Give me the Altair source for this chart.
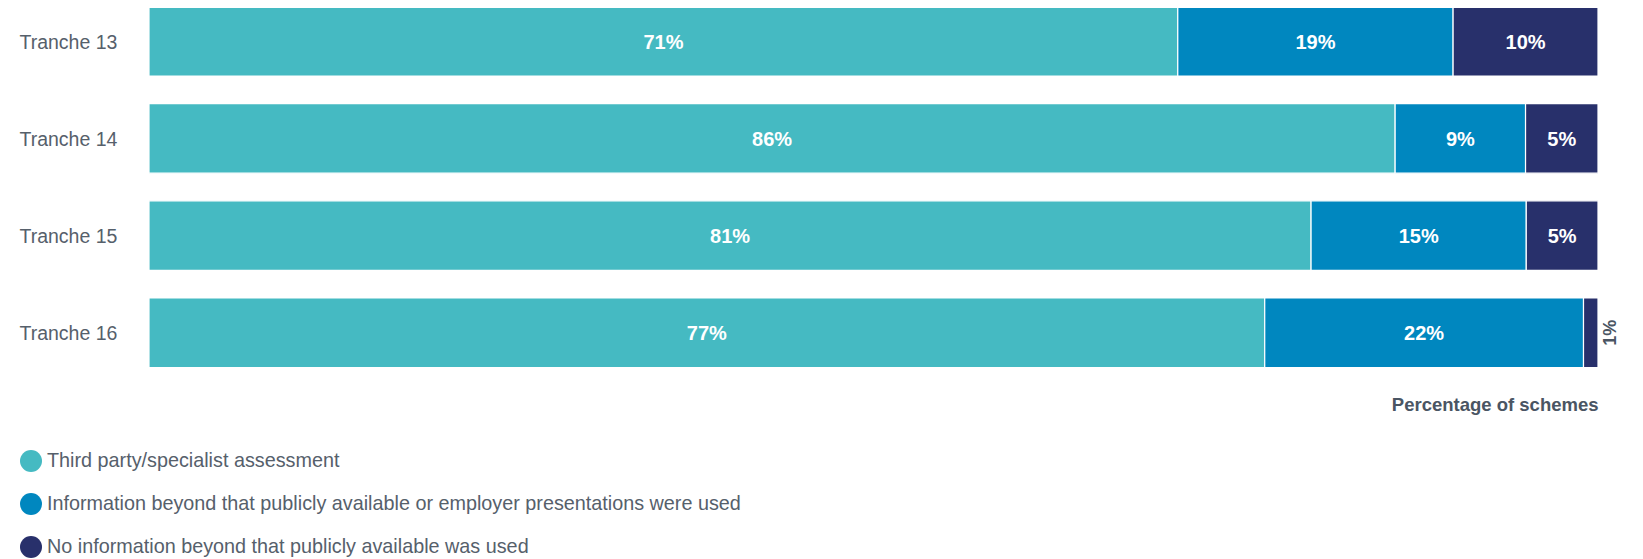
import altair as alt
import pandas as pd

tranches = ["Tranche 13", "Tranche 14", "Tranche 15", "Tranche 16"]
categories = [
    "Third party/specialist assessment",
    "Information beyond that publicly available or employer presentations were used",
    "No information beyond that publicly available was used",
]
third_party = [71, 86, 81, 77]
beyond_public = [19, 9, 15, 22]
no_info = [10, 5, 5, 1]
colors = ["#45BAC2", "#0087BF", "#28306B"]

series = [third_party, beyond_public, no_info]
rows = []
for i, t in enumerate(tranches):
    for j, cat in enumerate(categories):
        v = series[j][i]
        rows.append({"tranche": t, "category": cat, "order": j, "value": v, "label": f"{v}%"})
df = pd.DataFrame(rows)

FONT = "Liberation Sans"
GRAY = "#56606B"
DARK = "#4A5563"

base = alt.Chart(df).transform_stack(
    stack="value",
    groupby=["tranche"],
    as_=["x0", "x1"],
    offset="normalize",
    sort=[alt.SortField("order", order="ascending")],
).transform_calculate(mid="(datum.x0 + datum.x1) / 2")

x_scale = alt.Scale(domain=[0, 1], nice=False, zero=True)
y_enc = alt.Y(
    "tranche:N",
    sort=tranches,
    title=None,
    scale=alt.Scale(paddingInner=0.285, paddingOuter=0),
    axis=alt.Axis(
        labelAlign="left",
        labelPadding=130,
        labelOffset=1.5,
        ticks=False,
        tickSize=0,
        domain=False,
        labelFont=FONT,
        labelFontSize=19.5,
        labelColor=GRAY,
    ),
)

bars = base.mark_bar(stroke="white", strokeWidth=1.2).encode(
    x=alt.X(
        "x0:Q",
        scale=x_scale,
        axis=alt.Axis(
            labels=False,
            ticks=False,
            domain=False,
            grid=False,
            title="Percentage of schemes",
            titleAnchor="end",
            titleFont=FONT,
            titleFontSize=18.5,
            titleFontWeight="bold",
            titleColor=DARK,
            titlePadding=27.5,
        ),
    ),
    x2="x1:Q",
    y=y_enc,
    color=alt.Color(
        "category:N",
        scale=alt.Scale(domain=categories, range=colors),
        legend=alt.Legend(
            title=None,
            orient="none",
            legendX=-129,
            legendY=443.5,
            direction="vertical",
            symbolType="circle",
            symbolSize=484,
            symbolStrokeWidth=0,
            symbolOpacity=1,
            labelFont=FONT,
            labelFontSize=19.8,
            labelColor=GRAY,
            labelLimit=1000,
            labelOffset=5,
            rowPadding=21,
            padding=0,
        ),
    ),
)

inner_text = base.transform_filter("datum.value >= 3").mark_text(
    font=FONT, fontSize=20, fontWeight="bold", color="white", align="center", baseline="middle", dy=1.5
).encode(
    x=alt.X("mid:Q", scale=x_scale),
    y=alt.Y("tranche:N", sort=tranches),
    text="label:N",
)

outer_text = base.transform_filter("datum.value < 3").mark_text(
    font=FONT, fontSize=18, fontWeight="bold", color=DARK, align="center", baseline="top", angle=270, dy=4
).encode(
    x=alt.X("x1:Q", scale=x_scale),
    y=alt.Y("tranche:N", sort=tranches),
    text="label:N",
)

chart = (
    alt.layer(bars, inner_text, outer_text)
    .properties(width=1449, height=361, padding={"left": 11, "top": -2.5, "right": 5, "bottom": 0})
    .configure_view(stroke=None)
)

chart.save("out.html", embed_options={"renderer": "svg", "actions": False})
